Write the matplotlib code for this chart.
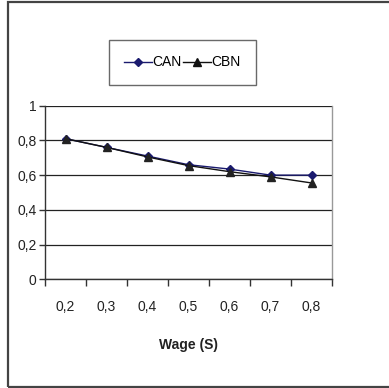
import matplotlib.pyplot as plt
from matplotlib.lines import Line2D
from matplotlib.patches import Rectangle

# wage levels and the two series
wages = ["0,2", "0,3", "0,4", "0,5", "0,6", "0,7", "0,8"]
can = [0.81, 0.76, 0.71, 0.66, 0.635, 0.60, 0.60]
cbn = [0.81, 0.76, 0.705, 0.655, 0.62, 0.59, 0.555]
yticks = [0, 0.2, 0.4, 0.6, 0.8, 1.0]
ylabels = ["0", "0,2", "0,4", "0,6", "0,8", "1"]

plt.rcParams['font.family'] = ['Liberation Sans', 'DejaVu Sans']

fig = plt.figure(figsize=(3.89, 3.88), dpi=100)

# outer chart border
fig.patches.append(Rectangle((8 / 389, 1.5 / 388), 1.2, 385 / 388, transform=fig.transFigure,
                             fill=False, edgecolor='#444444', linewidth=1.6))

ax = fig.add_axes([45 / 389, 108.7 / 388, 287 / 389, 173.6 / 388])
x = [i + 0.5 for i in range(len(wages))]

ax.plot(x, can, color='#1a1a6e', linewidth=1.0, marker='D', markersize=4.5,
        markerfacecolor='#1a1a6e', markeredgecolor='#1a1a6e', label='CAN')
ax.plot(x, cbn, color='#111111', linewidth=1.0, marker='^', markersize=6,
        markerfacecolor='#222222', markeredgecolor='#222222', label='CBN')

ax.set_xlim(0, len(wages))
ax.set_ylim(0, 1)
ax.set_xticks(range(len(wages) + 1))
ax.set_xticklabels([])
ax.set_xticks(x, minor=True)
ax.set_xticklabels(wages, minor=True)
ax.tick_params(axis='x', which='minor', length=0, pad=15, labelsize=10, labelcolor='#222222')
ax.tick_params(axis='x', which='major', length=5, width=1, color='#333333', direction='out')
ax.set_yticks(yticks)
ax.set_yticklabels(ylabels)
ax.tick_params(axis='y', length=4, width=1, color='#333333', pad=2, labelsize=10, labelcolor='#222222')

ax.grid(axis='y', color='#222222', linewidth=0.9)
ax.set_axisbelow(True)
for side in ['left', 'bottom']:
    ax.spines[side].set_color('#333333')
    ax.spines[side].set_linewidth(1.0)
ax.spines['top'].set_visible(False)
ax.spines['right'].set_color('#999999')
ax.spines['right'].set_linewidth(1.0)

ax.set_xlabel('Wage (S)', fontsize=10, fontweight='bold', labelpad=17, color='#222222')

handles = [Line2D([], [], color='#1a1a6e', marker='D', markersize=4.5, linewidth=1.0),
           Line2D([], [], color='#111111', marker='^', markersize=6, linewidth=1.0)]
leg = fig.legend(handles, ['CAN', 'CBN'], loc='center', bbox_to_anchor=(182.5 / 389, 1 - 62.5 / 388),
                 ncol=2, frameon=True, fancybox=False, fontsize=10, handlelength=2.0,
                 handletextpad=0.05, columnspacing=0.1, borderpad=1.1, borderaxespad=0)
leg.get_frame().set_edgecolor('#444444')
leg.get_frame().set_linewidth(1.0)

fig.savefig('out.png', dpi=100)
